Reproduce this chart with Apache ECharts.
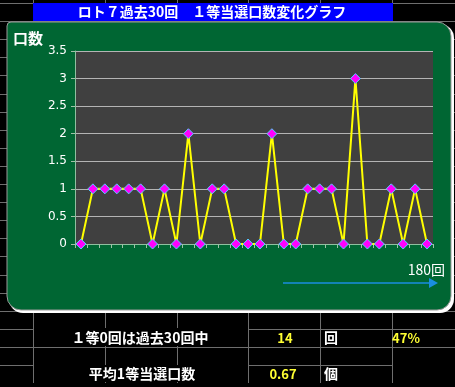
<!DOCTYPE html>
<html>
<head>
<meta charset="utf-8">
<script src="https://cdn.jsdelivr.net/npm/echarts@6/dist/echarts.min.js"></script>
<style>
html,body{margin:0;padding:0;background:#000;}
#c{width:455px;height:387px;}
</style>
</head>
<body>
<div id="c"></div>
<script>
var categories = ['1','2','3','4','5','6','7','8','9','10','11','12','13','14','15','16','17','18','19','20','21','22','23','24','25','26','27','28','29','30'];
var winners = [0,1,1,1,1,1,0,1,0,2,0,1,1,0,0,0,2,0,0,1,1,1,0,3,0,0,1,0,1,0];
var yTicks = [0,0.5,1,1.5,2,2.5,3,3.5];
var titleText = 'ロト７過去30回　１等当選口数変化グラフ';
var yAxisName = '口数';
var drawNo = '180回';
var row1Label = '１等0回は過去30回中';
var row2Label = '平均1等当選口数';

var zeroCount = winners.filter(function(v){return v===0;}).length;
var zeroPct = Math.round(zeroCount / winners.length * 100) + '%';
var avg = (winners.reduce(function(a,b){return a+b;},0) / winners.length).toFixed(2);

var FONT = '"Noto Sans CJK JP", "DejaVu Sans", sans-serif';
var gridColor = '#6e6e6e';

var graphics = [];
for (var k = 0; k < 22; k++) {
  var y = Math.round(3 + 18.1 * k) + 0.5;
  graphics.push({type:'line', z:-20, shape:{x1:0,y1:y,x2:455,y2:y}, style:{stroke:gridColor, lineWidth:1}});
}
[33,105,177,248,320,392].forEach(function(x){
  graphics.push({type:'line', z:-20, shape:{x1:x+0.5,y1:0,x2:x+0.5,y2:387}, style:{stroke:gridColor, lineWidth:1}});
});
graphics.push({type:'rect', z:-19, shape:{x:34,y:328,width:214,height:18}, style:{fill:'#000'}});
graphics.push({type:'rect', z:-19, shape:{x:34,y:365,width:214,height:17}, style:{fill:'#000'}});
graphics.push({type:'rect', z:-19, shape:{x:0,y:383,width:455,height:4}, style:{fill:'#000'}});
graphics.push({type:'rect', z:-19, shape:{x:393,y:365,width:62,height:17}, style:{fill:'#000'}});
graphics.push({type:'rect', z:-15, shape:{x:33,y:3,width:360,height:18}, style:{fill:'#0000ff'}});
graphics.push({type:'text', z:-14, x:212, y:12, style:{text:titleText, fill:'#fff', font:'bold 14px '+FONT, textAlign:'center', textVerticalAlign:'middle'}});
graphics.push({type:'rect', z:-12, shape:{x:9,y:24,width:445,height:289,r:[4,14,14,14]}, style:{fill:'#ffffff'}});
graphics.push({type:'rect', z:-11, shape:{x:7,y:22,width:444,height:288,r:[4,14,14,14]}, style:{fill:'#006633', stroke:'#9a9a9a', lineWidth:1}});
graphics.push({type:'text', z:-10, x:13, y:38, style:{text:yAxisName, fill:'#fff', font:'bold 15px '+FONT, textVerticalAlign:'middle'}});
graphics.push({type:'text', z:-10, x:445, y:270, style:{text:drawNo, fill:'#fff', font:'14px '+FONT, textAlign:'right', textVerticalAlign:'middle'}});
graphics.push({type:'line', z:-10, shape:{x1:283,y1:283,x2:430,y2:283}, style:{stroke:'#1a8ee0', lineWidth:1.5}});
graphics.push({type:'polygon', z:-10, shape:{points:[[429,278],[438,283],[429,288]]}, style:{fill:'#1a8ee0'}});
graphics.push({type:'text', x:140, y:338, style:{text:row1Label, fill:'#fff', font:'bold 14px '+FONT, textAlign:'center', textVerticalAlign:'middle'}});
graphics.push({type:'text', x:285, y:338, style:{text:String(zeroCount), fill:'#ffff33', font:'bold 13px '+FONT, textAlign:'center', textVerticalAlign:'middle'}});
graphics.push({type:'text', x:331, y:338, style:{text:'回', fill:'#fff', font:'bold 14px '+FONT, textAlign:'center', textVerticalAlign:'middle'}});
graphics.push({type:'text', x:406, y:338, style:{text:zeroPct, fill:'#ffff33', font:'bold 13px '+FONT, textAlign:'center', textVerticalAlign:'middle'}});
graphics.push({type:'text', x:142, y:374, style:{text:row2Label, fill:'#fff', font:'bold 14px '+FONT, textAlign:'center', textVerticalAlign:'middle'}});
graphics.push({type:'text', x:283, y:374, style:{text:avg, fill:'#ffff33', font:'bold 13px '+FONT, textAlign:'center', textVerticalAlign:'middle'}});
graphics.push({type:'text', x:331, y:374, style:{text:'個', fill:'#fff', font:'bold 14px '+FONT, textAlign:'center', textVerticalAlign:'middle'}});

var chart = echarts.init(document.getElementById('c'));
chart.setOption({
  backgroundColor:'#000',
  animation:false,
  graphic: graphics,
  grid:{left:75, top:51, width:358, height:193, show:true, backgroundColor:'#404040', borderWidth:0},
  xAxis:{
    type:'category', data:categories, boundaryGap:true,
    axisLine:{show:true, lineStyle:{color:'#8fbf9f', width:1}},
    axisTick:{show:true, inside:false, length:4, interval:0, lineStyle:{color:'#a0c0a8'}},
    axisLabel:{show:false, interval:0}, splitLine:{show:false}
  },
  yAxis:{
    type:'value', min:0, max:3.5, interval:0.5,
    axisLine:{show:true, lineStyle:{color:'#8fbf9f'}},
    axisTick:{show:true, length:4, lineStyle:{color:'#a0c0a8'}},
    axisLabel:{color:'#fff', fontSize:12, fontFamily:'"DejaVu Sans", sans-serif', margin:8,
      formatter:function(v){return yTicks.indexOf(v)>=0 ? String(v) : '';}},
    splitLine:{show:true, lineStyle:{color:'#b4b4b4', width:1}}
  },
  series:[{
    type:'line', data:winners,
    showSymbol:true, showAllSymbol:true,
    symbol:'diamond', symbolSize:10,
    lineStyle:{color:'#ffff00', width:2},
    itemStyle:{color:'#ff00ff', borderColor:'#55ccff', borderWidth:1}
  }]
});
</script>
</body>
</html>
